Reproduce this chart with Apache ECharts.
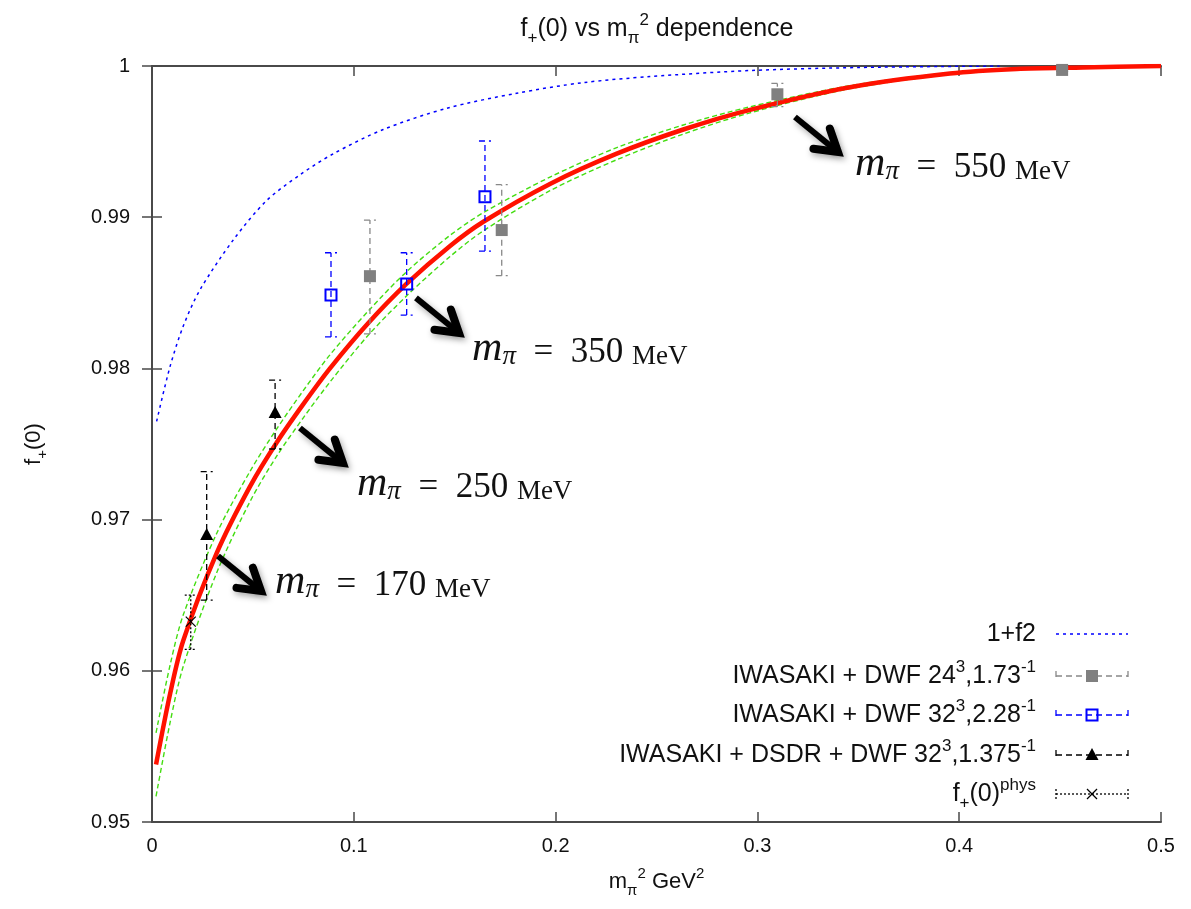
<!DOCTYPE html>
<html>
<head>
<meta charset="utf-8">
<script src="https://cdn.jsdelivr.net/npm/echarts@6.0.0/dist/echarts.min.js"></script>
<style>
  html, body { margin: 0; padding: 0; background: #fff; }
  #chart { width: 1191px; height: 909px; }
</style>
</head>
<body>
<div id="chart"></div>
<script>
// ---- values ----
// chiral fit (red) and its error band (green)
const fitX = [0.002, 0.009, 0.0155, 0.0321, 0.0486, 0.0618, 0.0748, 0.0882, 0.1072, 0.1262, 0.1477,
  0.1642, 0.1972, 0.2303, 0.2633, 0.2963, 0.3459, 0.3954, 0.4285, 0.4613, 0.5];
const fitY = [0.9538, 0.9585, 0.9620, 0.9678, 0.9722, 0.9751, 0.9776, 0.9800, 0.9830, 0.9856, 0.9881,
  0.9897, 0.9922, 0.9942, 0.9958, 0.9971, 0.9986, 0.9995, 0.9998, 0.9999, 1.0];
const bandUpper = [0.9559, 0.9604, 0.9637, 0.9691, 0.9732, 0.9760, 0.9785, 0.9809, 0.9838, 0.9864, 0.9888,
  0.9903, 0.99265, 0.9946, 0.9961, 0.9973, 0.9987, 0.99955, 0.99983, 0.99992, 1.0];
const bandLower = [0.9517, 0.9566, 0.9603, 0.9665, 0.9712, 0.9742, 0.9767, 0.9791, 0.9822, 0.9848, 0.9874,
  0.9891, 0.99175, 0.9938, 0.9955, 0.9969, 0.9985, 0.99945, 0.99977, 0.99988, 1.0];

// 1+f2 (blue dotted)
const f2X = [0.0023, 0.0089, 0.0155, 0.0238, 0.0403, 0.0568, 0.0733, 0.0899, 0.1146, 0.146, 0.1807,
  0.2137, 0.2468, 0.2963, 0.35, 0.42];
const f2Y = [0.9765, 0.9801, 0.9828, 0.9852, 0.9885, 0.9911, 0.9928, 0.9942, 0.9958, 0.9972, 0.9982,
  0.9989, 0.9993, 0.9997, 0.9999, 1.0];

// lattice points: x, central value, lower / upper end of error bar
const iwa24X = [0.108, 0.1733, 0.3099, 0.451];
const iwa24Y = [0.9861, 0.98915, 0.99813, 0.99974];
const iwa24Lo = [0.98228, 0.98613, 0.99731, 0.99965];
const iwa24Hi = [0.98981, 0.99215, 0.99885, 0.99985];

const iwa32X = [0.0887, 0.1262, 0.165];
const iwa32Y = [0.98485, 0.98558, 0.99136];
const iwa32Lo = [0.98208, 0.98353, 0.98776];
const iwa32Hi = [0.98765, 0.98765, 0.99504];

const dsdrX = [0.0271, 0.061];
const dsdrY = [0.96898, 0.97705];
const dsdrLo = [0.96468, 0.97467];
const dsdrHi = [0.97317, 0.97923];

const physX = [0.0192];
const physY = [0.96325];
const physLo = [0.96142];
const physHi = [0.96501];

const xTicks = [0, 0.1, 0.2, 0.3, 0.4, 0.5];
const yTicks = [0.95, 0.96, 0.97, 0.98, 0.99, 1];

// pion mass annotations: label, arrow start, text anchor (data coords)
const massLabels = ['170', '250', '350', '550'];
const arrowFrom = [[0.0327, 0.96759], [0.0733, 0.97606], [0.1308, 0.98466], [0.3186, 0.99663]];
const textAt = [[0.0610, 0.96581], [0.1016, 0.97229], [0.1586, 0.98122], [0.3484, 0.99345]];

const legendTexts = [
  '{t|1+f2}',
  '{t|IWASAKI + DWF 24}{sup|3}{t|,1.73}{sup|-1}',
  '{t|IWASAKI + DWF 32}{sup|3}{t|,2.28}{sup|-1}',
  '{t|IWASAKI + DSDR + DWF 32}{sup|3}{t|,1.375}{sup|-1}',
  '{t|f}{sub|+}{t|(0)}{sup|phys}',
];

// ---- styles ----
const sansFont = 'Liberation Sans, Arial, sans-serif';
const serifFont = 'Liberation Serif, DejaVu Serif, serif';
const frameColor = '#4a4a4a';

// rich text pieces with super/subscripts, size = main font size
const makeRich = (size, key) => ({
  t: { fontSize: size, fontFamily: sansFont, fontWeight: 'normal', [key]: '#111', lineHeight: size + 10 },
  sup: { fontSize: Math.round(size * 0.68), fontFamily: sansFont, fontWeight: 'normal', [key]: '#111', verticalAlign: 'top', lineHeight: Math.round(size * 0.75) },
  sub: { fontSize: Math.round(size * 0.68), fontFamily: sansFont, fontWeight: 'normal', [key]: '#111', verticalAlign: 'bottom', lineHeight: Math.round(size * 0.75) },
});

const barStyles = {
  iwa24: { color: '#888888', dash: [6, 4], marker: 'square' },
  iwa32: { color: '#0000ff', dash: [6, 4], marker: 'open' },
  dsdr: { color: '#000000', dash: [6, 4], marker: 'triangle' },
  phys: { color: '#000000', dash: [2, 2], marker: 'cross' },
};

const zip = (xs, ys) => xs.map((x, i) => [x, ys[i]]);

function makeMarker(kind, cx, cy) {
  if (kind === 'square') {
    return { type: 'rect', shape: { x: cx - 6, y: cy - 6, width: 12, height: 12 }, style: { fill: '#808080' } };
  }
  if (kind === 'open') {
    return {
      type: 'rect',
      shape: { x: cx - 5.5, y: cy - 5.5, width: 11, height: 11 },
      style: { fill: 'none', stroke: '#0000ff', lineWidth: 2 },
    };
  }
  if (kind === 'triangle') {
    return {
      type: 'polygon',
      shape: { points: [[cx, cy - 7], [cx - 6.5, cy + 5], [cx + 6.5, cy + 5]] },
      style: { fill: '#000' },
    };
  }
  // cross
  return {
    type: 'group',
    children: [
      { type: 'line', shape: { x1: cx - 5, y1: cy - 5, x2: cx + 5, y2: cy + 5 }, style: { stroke: '#000', lineWidth: 1.2 } },
      { type: 'line', shape: { x1: cx - 5, y1: cy + 5, x2: cx + 5, y2: cy - 5 }, style: { stroke: '#000', lineWidth: 1.2 } },
    ],
  };
}

function errorBarSeries(name, style, xs, ys, los, his) {
  return {
    name,
    type: 'custom',
    z: 5,
    data: xs.map((x, i) => [x, ys[i], los[i], his[i]]),
    encode: { x: 0, y: 1 },
    renderItem: (params, api) => {
      const x = api.value(0);
      const c = api.coord([x, api.value(1)]);
      const lo = api.coord([x, api.value(2)]);
      const hi = api.coord([x, api.value(3)]);
      const lineStyle = { stroke: style.color, lineWidth: 1.3, lineDash: style.dash };
      return {
        type: 'group',
        children: [
          { type: 'line', shape: { x1: lo[0], y1: lo[1], x2: hi[0], y2: hi[1] }, style: lineStyle },
          { type: 'line', shape: { x1: lo[0] - 6, y1: lo[1], x2: lo[0] + 6, y2: lo[1] }, style: lineStyle },
          { type: 'line', shape: { x1: hi[0] - 6, y1: hi[1], x2: hi[0] + 6, y2: hi[1] }, style: lineStyle },
          makeMarker(style.marker, c[0], c[1]),
        ],
      };
    },
  };
}

const bandLine = (data) => ({
  type: 'line',
  data,
  showSymbol: false,
  smooth: 0.3,
  lineStyle: { color: '#44dd11', width: 1.4, type: [5, 3] },
  z: 2,
});

const chart = echarts.init(document.getElementById('chart'));

chart.setOption({
  animation: false,
  backgroundColor: '#fff',
  title: {
    text: '{t|f}{sub|+}{t|(0) vs m}{sub|π}{sup|2}{t| dependence}',
    left: 652,
    textAlign: 'center',
    top: 7,
    textStyle: { fontWeight: 'normal', rich: makeRich(25, 'color') },
  },
  grid: { left: 152, right: 30, top: 66, bottom: 87 },
  xAxis: [
    {
      type: 'value',
      min: 0,
      max: 0.5,
      interval: 0.1,
      name: '{t|m}{sub|π}{sup|2}{t| GeV}{sup|2}',
      nameLocation: 'middle',
      nameGap: 44,
      nameTextStyle: { rich: makeRich(22, 'color') },
      axisLine: { lineStyle: { color: frameColor, width: 2 } },
      axisTick: { inside: true, length: 10, lineStyle: { color: frameColor, width: 1.5 } },
      axisLabel: {
        fontSize: 20, fontFamily: sansFont, color: '#111', margin: 14,
        formatter: (v) => String(xTicks.find((t) => Math.abs(t - v) < 1e-9) ?? v),
      },
      splitLine: { show: false },
    },
    {
      type: 'value', position: 'top', min: 0, max: 0.5, interval: 0.1,
      axisLine: { lineStyle: { color: frameColor, width: 2 } },
      axisTick: { inside: true, length: 10, lineStyle: { color: frameColor, width: 1.5 } },
      axisLabel: { show: false },
      splitLine: { show: false },
    },
  ],
  yAxis: [
    {
      type: 'value',
      min: 0.95,
      max: 1,
      interval: 0.01,
      name: '{t|f}{sub|+}{t|(0)}',
      nameLocation: 'middle',
      nameRotate: 90,
      nameGap: 102,
      nameTextStyle: { rich: makeRich(22, 'color') },
      axisLine: { lineStyle: { color: frameColor, width: 2 } },
      axisTick: { inside: true, length: 10, lineStyle: { color: frameColor, width: 1.5 } },
      axisLabel: {
        fontSize: 20, fontFamily: sansFont, color: '#111', margin: 22,
        formatter: (v) => {
          const t = yTicks.find((k) => Math.abs(k - v) < 1e-9);
          return t === 1 ? '1' : t.toFixed(2);
        },
      },
      splitLine: { show: false },
    },
    {
      type: 'value', position: 'right', min: 0.95, max: 1, interval: 0.01,
      axisLine: { lineStyle: { color: frameColor, width: 2 } },
      axisTick: { inside: true, length: 10, lineStyle: { color: frameColor, width: 1.5 } },
      axisLabel: { show: false },
      splitLine: { show: false },
    },
  ],
  series: [
    {
      name: '1+f2',
      type: 'line',
      data: zip(f2X, f2Y),
      showSymbol: false,
      smooth: 0.3,
      lineStyle: { color: '#0000ff', width: 1.5, type: [3, 4] },
      z: 2,
    },
    bandLine(zip(fitX, bandUpper)),
    bandLine(zip(fitX, bandLower)),
    {
      name: 'fit',
      type: 'line',
      data: zip(fitX, fitY),
      showSymbol: false,
      smooth: 0.3,
      lineStyle: { color: '#ff1100', width: 4.5 },
      z: 3,
    },
    errorBarSeries('IWASAKI + DWF 24', barStyles.iwa24, iwa24X, iwa24Y, iwa24Lo, iwa24Hi),
    errorBarSeries('IWASAKI + DWF 32', barStyles.iwa32, iwa32X, iwa32Y, iwa32Lo, iwa32Hi),
    errorBarSeries('IWASAKI + DSDR', barStyles.dsdr, dsdrX, dsdrY, dsdrLo, dsdrHi),
    errorBarSeries('phys', barStyles.phys, physX, physY, physLo, physHi),
  ],
});

// ---- annotations and legend (drawn as graphic elements) ----
const graphics = [];

const arrowShadow = { shadowBlur: 6, shadowColor: 'rgba(0,0,0,0.35)', shadowOffsetX: 2, shadowOffsetY: 3 };
massLabels.forEach((label, i) => {
  const [sx, sy] = chart.convertToPixel({ xAxisIndex: 0, yAxisIndex: 0 }, arrowFrom[i]);
  const [tx, ty] = chart.convertToPixel({ xAxisIndex: 0, yAxisIndex: 0 }, textAt[i]);
  const dx = 43, dy = 35;
  const len = Math.hypot(dx, dy);
  const ux = dx / len, uy = dy / len;
  const nx = -uy, ny = ux;
  const tip = [sx + dx, sy + dy];
  graphics.push({
    type: 'line',
    shape: { x1: sx, y1: sy, x2: tip[0] - ux * 3, y2: tip[1] - uy * 3 },
    style: { stroke: '#000', lineWidth: 6, ...arrowShadow },
    z: 20,
  });
  graphics.push({
    type: 'polyline',
    shape: {
      points: [
        [tip[0] - ux * 21 + nx * 13, tip[1] - uy * 21 + ny * 13],
        tip,
        [tip[0] - ux * 21 - nx * 13, tip[1] - uy * 21 - ny * 13],
      ],
    },
    style: { stroke: '#000', lineWidth: 8, lineJoin: 'miter', lineCap: 'round', fill: 'none', ...arrowShadow },
    z: 20,
  });
  graphics.push({
    type: 'text',
    x: tx,
    y: ty,
    z: 20,
    style: {
      text: '{m|m}{pi|π}{eq|  =  ' + label + ' }{u|MeV}',
      verticalAlign: 'middle',
      align: 'left',
      rich: {
        m: { fontFamily: serifFont, fontStyle: 'italic', fontSize: 42, fill: '#111', verticalAlign: 'bottom', lineHeight: 40 },
        pi: { fontFamily: serifFont, fontStyle: 'italic', fontSize: 27, fill: '#111', verticalAlign: 'bottom', lineHeight: 30 },
        eq: { fontFamily: serifFont, fontSize: 35, fill: '#111', verticalAlign: 'bottom', lineHeight: 38 },
        u: { fontFamily: serifFont, fontSize: 27, fill: '#111', verticalAlign: 'bottom', lineHeight: 31 },
      },
    },
  });
});

// legend block, bottom right inside the frame
const legendRows = [634, 676, 715, 755, 794];
const legendKinds = [null, 'iwa24', 'iwa32', 'dsdr', 'phys'];
const textRight = 1036, sampleL = 1056, sampleR = 1128;
const legendRich = makeRich(25, 'fill');
legendRows.forEach((y, i) => {
  graphics.push({
    type: 'text',
    x: textRight,
    y,
    z: 20,
    style: { text: legendTexts[i], align: 'right', verticalAlign: 'middle', rich: legendRich },
  });
  const kind = legendKinds[i];
  if (!kind) {
    graphics.push({
      type: 'line',
      shape: { x1: sampleL, y1: y, x2: sampleR, y2: y },
      style: { stroke: '#0000ff', lineWidth: 1.5, lineDash: [3, 4] },
      z: 20,
    });
    return;
  }
  const st = barStyles[kind];
  const ls = { stroke: st.color, lineWidth: 1.3, lineDash: st.dash };
  graphics.push({ type: 'line', shape: { x1: sampleL, y1: y, x2: sampleR, y2: y }, style: ls, z: 20 });
  graphics.push({ type: 'line', shape: { x1: sampleL, y1: y - 5, x2: sampleL, y2: y + 5 }, style: ls, z: 20 });
  graphics.push({ type: 'line', shape: { x1: sampleR, y1: y - 5, x2: sampleR, y2: y + 5 }, style: ls, z: 20 });
  graphics.push({ ...makeMarker(st.marker, (sampleL + sampleR) / 2, y), z: 21 });
});

chart.setOption({ graphic: graphics });
</script>
</body>
</html>
